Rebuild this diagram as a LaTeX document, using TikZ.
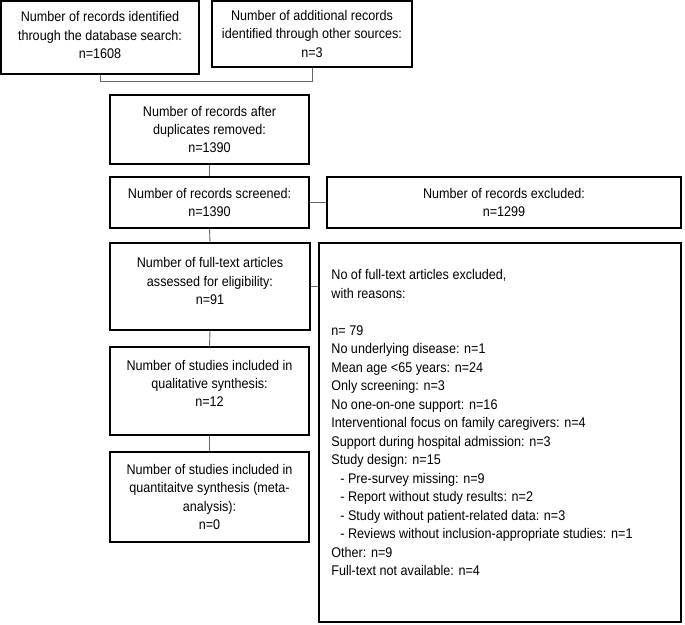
\documentclass[tikz,border=0pt]{standalone}
\usepackage{fontspec}
\setmainfont{Liberation Sans}[FakeStretch=0.9]

\tikzset{
  box/.style={draw, line width=1.6pt, align=center, inner sep=0pt},
  link/.style={draw=black!60, line width=0.9pt},
}

\begin{document}
\begin{tikzpicture}[x=1pt,y=1pt,font=\fontsize{14}{18.3}\selectfont]
\useasboundingbox (0,0) rectangle (685,624);
\node[box, minimum width=198, minimum height=73, text depth=5pt] (search) at (100,586.5) {Number of records identified\\through the database search:\\n=1608};
\node[box, minimum width=200, minimum height=66] (other) at (312,590) {Number of additional records\\identified through other sources:\\n=3};
\node[box, minimum width=199, minimum height=69] (dupl) at (209.5,494.5) {Number of records after\\duplicates removed:\\n=1390};
\node[box, minimum width=199, minimum height=51] (screen) at (209.5,421.5) {Number of records screened:\\n=1390};
\node[box, minimum width=354, minimum height=51] (recexcl) at (504,421.5) {Number of records excluded:\\n=1299};
\node[box, minimum width=200, minimum height=87, text depth=11pt] (full) at (210,337.5) {Number of full-text articles\\assessed for eligibility:\\n=91};
\node[box, minimum width=362, minimum height=379] (fullexcl) at (500,191.5) {};
\node[anchor=north west, align=left, inner sep=0pt, font=\fontsize{14}{18.5}\selectfont] (reasons) at ([shift={(13,-27)}]fullexcl.north west) {No of full-text articles excluded,\\
with reasons:\\[18.5pt]
n= 79\\
No underlying disease: n=1\\
Mean age <65 years: n=24\\
Only screening: n=3\\
No one-on-one support: n=16\\
Interventional focus on family caregivers: n=4\\
Support during hospital admission: n=3\\
Study design: n=15\\
\hspace*{9pt}- Pre-survey missing: n=9\\
\hspace*{9pt}- Report without study results: n=2\\
\hspace*{9pt}- Study without patient-related data: n=3\\
\hspace*{9pt}- Reviews without inclusion-appropriate studies: n=1\\
Other: n=9\\
Full-text not available: n=4};
\node[box, minimum width=199, minimum height=88, text depth=15pt] (qual) at (209.5,233) {Number of studies included in\\qualitative synthesis:\\n=12};
\node[box, minimum width=199, minimum height=90] (quant) at (209.5,127) {Number of studies included in\\quantitaitve synthesis (meta-\\analysis):\\n=0};
\draw[link] (search.south) -- ++(0,-7) -| (other.south);
\draw[link] (dupl.south) -- (screen.north);
\draw[link] (screen.east) -- (recexcl.west);
\draw[link] (screen.south) -- (full.north);
\draw[link] (full.east) -- (full.east -| fullexcl.west);
\draw[link] (full.south) -- (qual.north);
\draw[link] (qual.south) -- (quant.north);
\end{tikzpicture}
\end{document}
